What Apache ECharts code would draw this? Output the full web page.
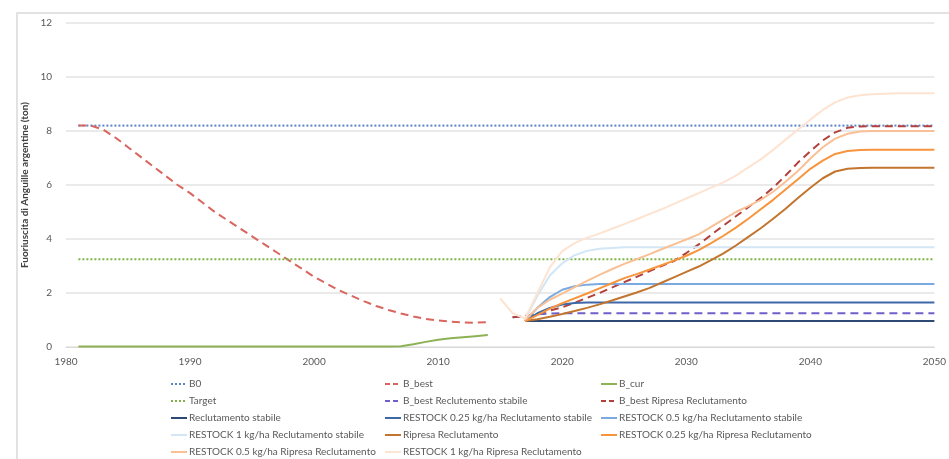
<!DOCTYPE html>
<html><head><meta charset="utf-8">
<script src="https://cdn.jsdelivr.net/npm/echarts@6/dist/echarts.min.js"></script>
<style>html,body{margin:0;padding:0;background:#fff}#c{width:949px;height:459px}</style>
</head><body><div id="c"></div>
<script>
// ---- data ----
const refYears = [1981, 2050];
const b0Vals = [8.2, 8.2];
const targetVals = [3.25, 3.25];

const histYears = [1981,1982,1983,1984,1985,1986,1987,1988,1989,1990,1991,1992,1993,1994,1995,1996,1997,1998,1999,2000,2001,2002,2003,2004,2005,2006,2007,2008,2009,2010,2011,2012,2013,2014];
const bBest = [8.2,8.2,8.05,7.75,7.4,7.05,6.7,6.35,6.0,5.7,5.35,5.0,4.7,4.4,4.1,3.8,3.5,3.2,2.9,2.6,2.35,2.1,1.9,1.7,1.52,1.37,1.24,1.13,1.04,0.98,0.94,0.91,0.9,0.92];
const bCur = [0.02,0.02,0.02,0.02,0.02,0.02,0.02,0.02,0.02,0.02,0.02,0.02,0.02,0.02,0.02,0.02,0.02,0.02,0.02,0.02,0.02,0.02,0.02,0.02,0.02,0.02,0.03,0.1,0.19,0.27,0.32,0.36,0.4,0.44];

const futYears = [2015,2016,2017,2018,2019,2020,2021,2022,2023,2024,2025,2026,2027,2028,2029,2030,2031,2032,2033,2034,2035,2036,2037,2038,2039,2040,2041,2042,2043,2044,2045,2046,2047,2048,2049,2050];
const bBestRecStab = [null,1.10,1.15,1.21,1.24,1.25,1.25,1.25,1.25,1.25,1.25,1.25,1.25,1.25,1.25,1.25,1.25,1.25,1.25,1.25,1.25,1.25,1.25,1.25,1.25,1.25,1.25,1.25,1.25,1.25,1.25,1.25,1.25,1.25,1.25,1.25];
const bBestRip = [null,1.1,1.15,1.24,1.35,1.47,1.64,1.82,2.0,2.2,2.4,2.6,2.8,3.0,3.18,3.48,3.8,4.15,4.5,4.84,5.18,5.52,5.9,6.35,6.83,7.25,7.65,7.95,8.12,8.17,8.18,8.18,8.18,8.18,8.18,8.18];
const recStab = [null,null,0.96,0.96,0.96,0.96,0.96,0.96,0.96,0.96,0.96,0.96,0.96,0.96,0.96,0.96,0.96,0.96,0.96,0.96,0.96,0.96,0.96,0.96,0.96,0.96,0.96,0.96,0.96,0.96,0.96,0.96,0.96,0.96,0.96,0.96];
const r025Stab = [null,null,0.96,1.25,1.45,1.57,1.63,1.65,1.65,1.65,1.65,1.65,1.65,1.65,1.65,1.65,1.65,1.65,1.65,1.65,1.65,1.65,1.65,1.65,1.65,1.65,1.65,1.65,1.65,1.65,1.65,1.65,1.65,1.65,1.65,1.65];
const r05Stab = [null,null,0.96,1.45,1.85,2.12,2.25,2.31,2.33,2.33,2.33,2.33,2.33,2.33,2.33,2.33,2.33,2.33,2.33,2.33,2.33,2.33,2.33,2.33,2.33,2.33,2.33,2.33,2.33,2.33,2.33,2.33,2.33,2.33,2.33,2.33];
const r1Stab = [null,null,1.0,1.9,2.65,3.1,3.4,3.56,3.64,3.67,3.69,3.69,3.69,3.69,3.69,3.69,3.69,3.69,3.69,3.69,3.69,3.69,3.69,3.69,3.69,3.69,3.69,3.69,3.69,3.69,3.69,3.69,3.69,3.69,3.69,3.69];
const ripresa = [null,null,0.96,1.03,1.12,1.22,1.33,1.45,1.58,1.72,1.87,2.02,2.18,2.38,2.58,2.78,2.98,3.22,3.47,3.76,4.08,4.4,4.75,5.12,5.52,5.9,6.25,6.5,6.6,6.63,6.64,6.64,6.64,6.64,6.64,6.64];
const r025Rip = [null,null,0.96,1.18,1.42,1.62,1.8,1.98,2.17,2.36,2.55,2.7,2.86,3.03,3.2,3.38,3.59,3.85,4.12,4.42,4.75,5.1,5.45,5.83,6.21,6.6,6.9,7.15,7.26,7.3,7.31,7.31,7.31,7.31,7.31,7.31];
const r05Rip = [null,null,1.0,1.45,1.75,1.98,2.22,2.45,2.67,2.88,3.08,3.25,3.43,3.62,3.8,3.98,4.17,4.45,4.73,5.0,5.22,5.45,5.75,6.12,6.52,6.98,7.4,7.72,7.9,7.98,8.0,8.0,8.0,8.0,8.0,8.0];
const r1Rip = [1.8,1.25,1.05,2.0,2.95,3.55,3.85,4.05,4.2,4.38,4.55,4.73,4.92,5.1,5.3,5.5,5.7,5.9,6.1,6.35,6.65,6.95,7.3,7.68,8.05,8.42,8.78,9.06,9.24,9.32,9.36,9.38,9.4,9.4,9.4,9.4];

const xTicks = {min: 1980, max: 2050, step: 10};
const yTicks = {min: 0, max: 12, step: 2};

// ---- helpers ----
const zip = (xs, ys) => xs.map((x, i) => [x, ys[i]]);
function mk(name, years, vals, color, type, width) {
  return {
    name, type: 'line', data: zip(years, vals), symbol: 'none', showSymbol: false,
    smooth: false, connectNulls: false,
    lineStyle: {color, width: width || 2, type: type || 'solid'},
    itemStyle: {color},
    emphasis: {disabled: true}
  };
}
const DOT = [2, 2], DASH = [8, 5], LDASH = [5, 3];
const series = [
  mk('B0', refYears, b0Vals, '#5B84C4', DOT),
  mk('B_best', histYears, bBest, '#D9665E', DASH),
  mk('B_cur', histYears, bCur, '#8DB255'),
  mk('Target', refYears, targetVals, '#7EB347', DOT),
  mk('B_best Reclutemento stabile', futYears, bBestRecStab, '#6F5FC9', DASH),
  mk('B_best Ripresa Reclutamento', futYears, bBestRip, '#B2403C', DASH),
  mk('Reclutamento stabile', futYears, recStab, '#2E4A73'),
  mk('RESTOCK 0.25 kg/ha Reclutamento stabile', futYears, r025Stab, '#3E68A8'),
  mk('RESTOCK 0.5 kg/ha Reclutamento stabile', futYears, r05Stab, '#7BAAE0'),
  mk('RESTOCK 1 kg/ha Reclutamento stabile', futYears, r1Stab, '#D2E6F5'),
  mk('Ripresa Reclutamento', futYears, ripresa, '#C2752F'),
  mk('RESTOCK 0.25 kg/ha Ripresa Reclutamento', futYears, r025Rip, '#F7943C'),
  mk('RESTOCK 0.5 kg/ha Ripresa Reclutamento', futYears, r05Rip, '#F9C095'),
  mk('RESTOCK 1 kg/ha Ripresa Reclutamento', futYears, r1Rip, '#FDE4D2')
];
const dashed = {'B_best': 1, 'B_best Reclutemento stabile': 1, 'B_best Ripresa Reclutamento': 1};
const legendItem = n => dashed[n] ? {name: n, lineStyle: {type: LDASH}} : {name: n};
const names = series.map(s => s.name);
const cols = [[], [], []];
names.forEach((n, i) => cols[i % 3].push(legendItem(n)));
const legendBase = {
  orient: 'vertical', top: 379, padding: 0, itemWidth: 16, itemHeight: 10, itemGap: 7,
  itemStyle: {color: 'rgba(0,0,0,0)', borderWidth: 0, opacity: 0},
  textStyle: {fontFamily: 'Lato', fontSize: 10, color: '#595959', padding: [0, 0, 0, -3]},
  selectedMode: false
};
const legends = [
  Object.assign({}, legendBase, {left: 170, data: cols[0]}),
  Object.assign({}, legendBase, {left: 384, data: cols[1]}),
  Object.assign({}, legendBase, {left: 600, data: cols[2]})
];

const chart = echarts.init(document.getElementById('c'), null, {renderer: 'canvas'});
chart.setOption({
  animation: false,
  backgroundColor: '#fff',
  textStyle: {fontFamily: 'Lato'},
  graphic: [{type: 'rect', shape: {x: 17, y: 13, width: 960, height: 470}, style: {fill: 'none', stroke: '#D9D9D9', lineWidth: 1.5}, silent: true, z: -1}],
  grid: {left: 66, right: 6, top: 23, bottom: 112, containLabel: false},
  legend: legends,
  xAxis: {
    type: 'value', min: xTicks.min, max: xTicks.max, interval: xTicks.step,
    axisLine: {show: true, lineStyle: {color: '#D9D9D9', width: 1}},
    axisTick: {show: false}, splitLine: {show: false},
    axisLabel: {color: '#595959', fontSize: 10, margin: 10, formatter: v => String(v)}
  },
  yAxis: {
    type: 'value', min: yTicks.min, max: yTicks.max, interval: yTicks.step,
    name: 'Fuoriuscita di Anguille argentine (ton)', nameLocation: 'middle', nameGap: 30,
    nameTextStyle: {color: '#404040', fontSize: 10, fontWeight: 'bold', fontFamily: 'Lato'},
    axisLine: {show: false}, axisTick: {show: false},
    splitLine: {lineStyle: {color: '#E3E3E3', width: 1.5}},
    axisLabel: {color: '#595959', fontSize: 10, margin: 14}
  },
  series
});
</script></body></html>
